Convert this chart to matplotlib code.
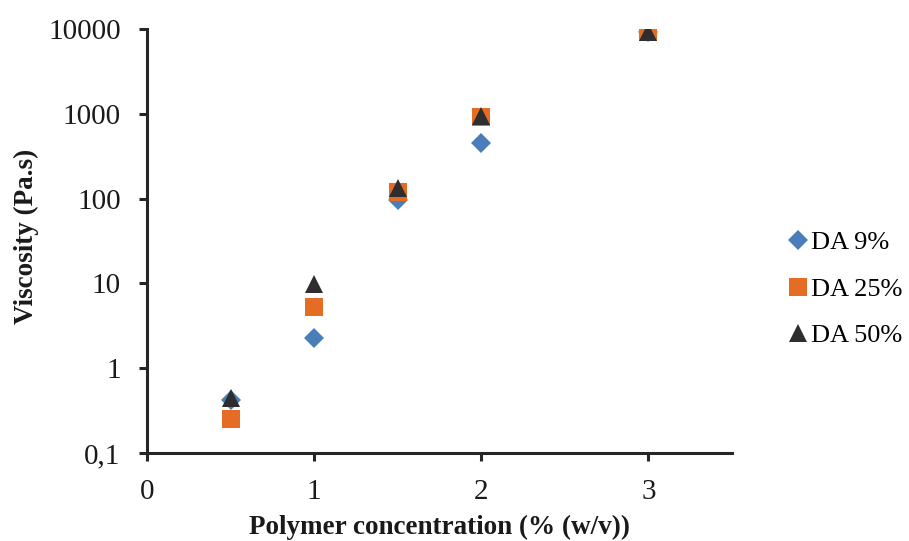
import matplotlib
matplotlib.use("Agg")
import matplotlib.pyplot as plt
from matplotlib.ticker import FixedLocator, FixedFormatter, NullLocator

conc = [0.5, 1.0, 1.5, 2.0, 3.0]
da9 = [0.42, 2.3, 97, 457, 9300]
da25 = [0.25, 5.2, 120, 920, 9300]
da50 = [0.44, 9.8, 132, 930, 9100]
series_labels = ["DA 9%", "DA 25%", "DA 50%"]
yticks = [0.1, 1, 10, 100, 1000, 10000]
ytick_labels = ["0,1", "1", "10", "100", "1000", "10000"]
xticks = [0, 1, 2, 3]

plt.rcParams['font.family'] = ['Liberation Serif', 'DejaVu Serif']

fig = plt.figure(figsize=(9.09, 5.41), dpi=100)
ax = fig.add_axes([147/909, 1 - 453/541, (732-147)/909, (453-29)/541])

axc = '#262626'
ax.plot(conc, da9, linestyle='none', marker='D', markersize=10.5, color='#4A7EBB', label=series_labels[0], markeredgewidth=0)
ax.plot(conc, da25, linestyle='none', marker='s', markersize=13.5, color='#E46C24', label=series_labels[1], markeredgewidth=0)
ax.plot(conc, da50, linestyle='none', marker='^', markersize=13.5, color='#2E2E2E', label=series_labels[2], markeredgewidth=0)

ax.set_yscale('log')
ax.set_ylim(0.1, 10000)
ax.set_xlim(0, 3.5)
ax.yaxis.set_major_locator(FixedLocator(yticks))
ax.yaxis.set_major_formatter(FixedFormatter(ytick_labels))
ax.yaxis.set_minor_locator(NullLocator())
ax.set_xticks(xticks)
ax.set_xticklabels([str(t) for t in xticks])

for s in ['top', 'right']:
    ax.spines[s].set_visible(False)
for s in ['left', 'bottom']:
    ax.spines[s].set_linewidth(2.2)
    ax.spines[s].set_color(axc)
ax.tick_params(axis='both', direction='out', length=6, width=2.2, color=axc,
               labelsize=21, pad=13, labelcolor='#1a1a1a')

fig.text((147 + 732) / 2 / 909, 1 - 527/541, 'Polymer concentration (% (w/v))',
         fontsize=19.5, fontweight='bold', ha='center', va='center', color='#1a1a1a')
fig.text(26/909, 1 - 236/541, 'Viscosity (Pa.s)', rotation=90,
         fontsize=19.5, fontweight='bold', ha='center', va='center', color='#1a1a1a')

leg = ax.legend(loc='center left', bbox_to_anchor=(777/909, 1 - 289/541), bbox_transform=fig.transFigure,
                frameon=False, fontsize=19, handlelength=0.6, handletextpad=0.2, labelspacing=0.88,
                borderpad=0)
fig.savefig('out.png', dpi=100)
